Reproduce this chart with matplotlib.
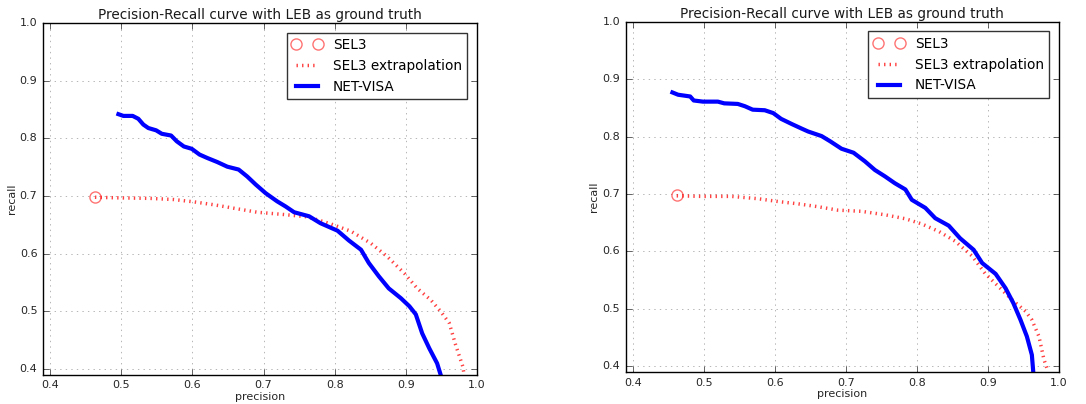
import matplotlib
matplotlib.use('Agg')
import matplotlib.pyplot as plt

plt.style.use('classic')
plt.rcParams['figure.facecolor'] = 'white'
plt.rcParams['savefig.facecolor'] = 'white'
plt.rcParams['font.family'] = ['DejaVu Sans']

# left panel
l_net_p = [0.496, 0.503, 0.516, 0.524, 0.531, 0.538, 0.549, 0.557, 0.570, 0.578,
           0.588, 0.599, 0.610, 0.621, 0.635, 0.649, 0.665, 0.677, 0.689, 0.703,
           0.719, 0.731, 0.743, 0.764, 0.780, 0.804, 0.820, 0.837, 0.848, 0.862,
           0.876, 0.893, 0.905, 0.914, 0.923, 0.933, 0.944, 0.949]
l_net_r = [0.842, 0.839, 0.839, 0.834, 0.824, 0.818, 0.814, 0.808, 0.805, 0.795,
           0.786, 0.782, 0.772, 0.766, 0.759, 0.751, 0.746, 0.734, 0.720, 0.705,
           0.691, 0.682, 0.672, 0.665, 0.653, 0.640, 0.623, 0.607, 0.584, 0.561,
           0.540, 0.523, 0.509, 0.495, 0.462, 0.436, 0.410, 0.390]
l_ext_p = [0.463, 0.494, 0.541, 0.574, 0.602, 0.630, 0.658, 0.691, 0.729, 0.762,
           0.794, 0.823, 0.851, 0.874, 0.898, 0.916, 0.935, 0.949, 0.961, 0.970,
           0.980, 0.982]
l_ext_r = [0.698, 0.697, 0.696, 0.694, 0.690, 0.685, 0.679, 0.672, 0.668, 0.664,
           0.652, 0.639, 0.618, 0.595, 0.566, 0.540, 0.520, 0.500, 0.480, 0.442,
           0.405, 0.390]

# right panel
r_net_p = [0.456, 0.464, 0.481, 0.486, 0.499, 0.520, 0.529, 0.548, 0.558, 0.569,
           0.586, 0.598, 0.609, 0.624, 0.638, 0.647, 0.666, 0.678, 0.694, 0.711,
           0.727, 0.741, 0.755, 0.769, 0.784, 0.793, 0.812, 0.826, 0.845, 0.861,
           0.880, 0.892, 0.911, 0.925, 0.936, 0.946, 0.955, 0.962, 0.964]
r_net_r = [0.877, 0.873, 0.870, 0.863, 0.861, 0.861, 0.858, 0.857, 0.853, 0.847,
           0.846, 0.841, 0.831, 0.822, 0.814, 0.809, 0.801, 0.792, 0.779, 0.772,
           0.757, 0.742, 0.731, 0.719, 0.708, 0.690, 0.676, 0.658, 0.645, 0.623,
           0.603, 0.580, 0.561, 0.536, 0.510, 0.481, 0.452, 0.420, 0.390]
r_ext_p = [0.462, 0.496, 0.539, 0.576, 0.605, 0.633, 0.661, 0.689, 0.722, 0.755,
           0.784, 0.807, 0.831, 0.854, 0.878, 0.896, 0.915, 0.934, 0.953, 0.962,
           0.972, 0.979, 0.984]
r_ext_r = [0.697, 0.696, 0.696, 0.692, 0.687, 0.683, 0.678, 0.672, 0.670, 0.664,
           0.657, 0.648, 0.635, 0.618, 0.592, 0.562, 0.539, 0.516, 0.496, 0.481,
           0.452, 0.412, 0.394]

sel3_p = 0.463
sel3_r = 0.698

fig = plt.figure(figsize=(10.86, 4.04), dpi=100)
ax1 = fig.add_axes([0.0396, 0.072, 0.3996, 0.871])
ax2 = fig.add_axes([0.576, 0.079, 0.399, 0.867])

panels = [(ax1, l_net_p, l_net_r, l_ext_p, l_ext_r),
          (ax2, r_net_p, r_net_r, r_ext_p, r_ext_r)]

for ax, np_, nr, ep, er in panels:
    ax.plot([sel3_p], [sel3_r], 'o', mfc='none', mec='red', mew=1.0,
            ms=8, alpha=0.55, label='SEL3')
    ax.plot(ep, er, ':', color='red', lw=2.5, alpha=0.75,
            label='SEL3 extrapolation')
    ax.plot(np_, nr, '-', color='blue', lw=3, label='NET-VISA')
    ax.set_xlim(0.39, 1.0)
    ax.set_ylim(0.39, 1.0)
    ax.set_xticks([0.4, 0.5, 0.6, 0.7, 0.8, 0.9, 1.0])
    ax.set_yticks([0.4, 0.5, 0.6, 0.7, 0.8, 0.9, 1.0])
    ax.tick_params(labelsize=8, colors='0.15')
    ax.set_axisbelow('line')
    ax.grid(True, color='0.6', linestyle=':')
    ax.set_xlabel('precision', fontsize=8, labelpad=1, color='0.15')
    ax.set_ylabel('recall', fontsize=8, labelpad=2, color='0.15')
    ax.set_title('Precision-Recall curve with LEB as ground truth',
                 fontsize=9.8, y=1.0, pad=3, color='0.1')
    leg = ax.legend(loc='upper right', numpoints=2, fontsize=9.8,
                    borderaxespad=0.7, handlelength=2.2)
    leg.get_frame().set_edgecolor('0.2')

plt.savefig('out.png', dpi=100)
